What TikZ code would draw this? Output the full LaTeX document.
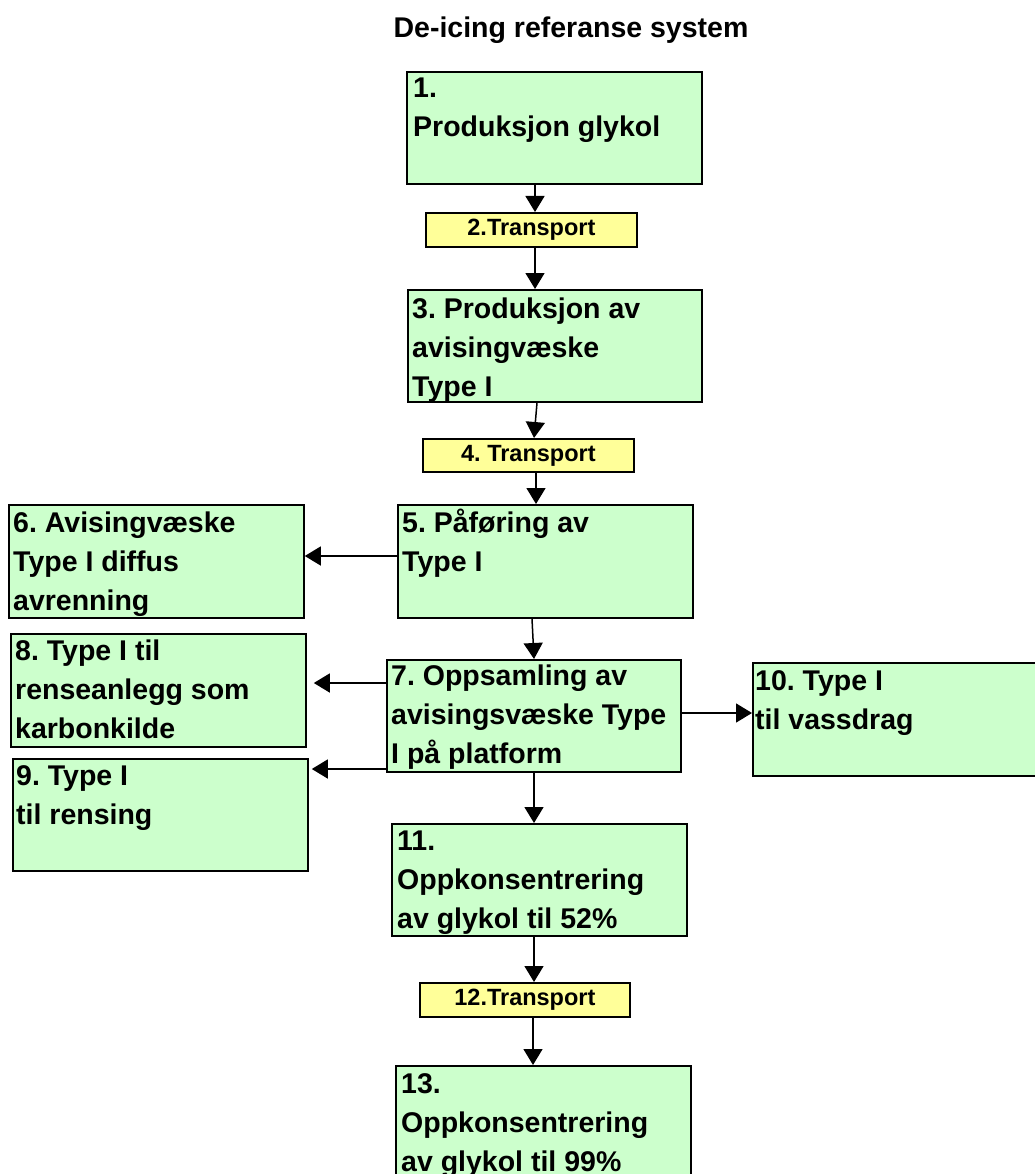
\documentclass[tikz,border=0pt]{standalone}
\usepackage{fontspec}
\setmainfont{Liberation Sans}
\usetikzlibrary{arrows.meta}
\definecolor{boxgreen}{HTML}{CCFFCC}
\definecolor{boxyellow}{HTML}{FFFF99}
\frenchspacing
\begin{document}
\begin{tikzpicture}[x=1pt,y=-1pt,
  gbox/.style={draw=black, fill=boxgreen, line width=1.8pt, inner sep=0pt, anchor=north west},
  ybox/.style={draw=black, fill=boxyellow, line width=1.8pt, inner sep=0pt, anchor=north west},
  txt/.style={anchor=base west, inner sep=0pt, font=\fontsize{28.5}{39}\selectfont\bfseries},
  ttxt/.style={font=\fontsize{23.5}{28}\selectfont\bfseries},
  arr/.style={line width=1.5pt, -{Triangle[length=16pt,width=19pt]}}]
\useasboundingbox (0,0) rectangle (1034,1174);

% title
\node[anchor=base, inner sep=0pt, font=\fontsize{28.5}{34}\selectfont\bfseries] (title) at (571,38) {De-icing referanse system};

% green process boxes
\node[gbox, minimum width=295pt, minimum height=112pt] (b1) at (406,71) {};
\node[gbox, minimum width=294pt, minimum height=112pt] (b3) at (407,289) {};
\node[gbox, minimum width=295pt, minimum height=113pt] (b5) at (397,504) {};
\node[gbox, minimum width=295pt, minimum height=113pt] (b6) at (8,504) {};
\node[gbox, minimum width=294pt, minimum height=112pt] (b7) at (386,659) {};
\node[gbox, minimum width=295pt, minimum height=113pt] (b8) at (10,633) {};
\node[gbox, minimum width=295pt, minimum height=112pt] (b9) at (12,758) {};
\node[gbox, minimum width=295pt, minimum height=113pt] (b10) at (752,662) {};
\node[gbox, minimum width=295pt, minimum height=112pt] (b11) at (391,823) {};
\node[gbox, minimum width=295pt, minimum height=113pt] (b13) at (395,1065) {};

% yellow transport boxes
\node[ybox, minimum width=211pt, minimum height=34pt] (b2) at (425,212) {};
\node[ybox, minimum width=211pt, minimum height=33pt] (b4) at (422,438) {};
\node[ybox, minimum width=210pt, minimum height=34pt] (b12) at (419,982) {};

% box texts
\node[txt] (t1) at (413,98) {\vtop{\hbox{1.}\hbox{Produksjon glykol}}};
\node[ttxt] (t2) at (b2.center) {2.Transport};
\node[txt] (t3) at (412,318) {\vtop{\hbox{3. Produksjon av}\hbox{avisingvæske}\hbox{Type I}}};
\node[ttxt] (t4) at (b4.center) {4. Transport};
\node[txt] (t5) at (402,532) {\vtop{\hbox{5. Påføring av}\hbox{Type I}}};
\node[txt] (t6) at (13,532) {\vtop{\hbox{6. Avisingvæske}\hbox{Type I diffus}\hbox{avrenning}}};
\node[txt] (t7) at (391,685) {\vtop{\hbox{7. Oppsamling av}\hbox{avisingsvæske Type}\hbox{I på platform}}};
\node[txt] (t8) at (15,660) {\vtop{\hbox{8. Type I til}\hbox{renseanlegg som}\hbox{karbonkilde}}};
\node[txt] (t9) at (16,785) {\vtop{\hbox{9. Type I}\hbox{til rensing}}};
\node[txt] (t10) at (755,690) {\vtop{\hbox{10. Type I}\hbox{til vassdrag}}};
\node[txt] (t11) at (397,850) {\vtop{\hbox{11.}\hbox{Oppkonsentrering}\hbox{av glykol til 52\%}}};
\node[ttxt] (t12) at (b12.center) {12.Transport};
\node[txt] (t13) at (401,1093) {\vtop{\hbox{13.}\hbox{Oppkonsentrering}\hbox{av glykol til 99\%}}};

% flow connectors
\draw[arr] (535,0 |- b1.south) -- (535,0 |- b2.north);
\draw[arr] (535,0 |- b2.south) -- (535,0 |- b3.north);
\draw[arr] (537,0 |- b3.south) -- (534,0 |- b4.north);
\draw[arr] (536,0 |- b4.south) -- (536,0 |- b5.north);
\draw[arr] (b5.west |- 0,556) -- (b6.east |- 0,556);
\draw[arr] (532,0 |- b5.south) -- (534,0 |- b7.north);
\draw[arr, shorten >=7pt] (b7.west |- 0,683) -- (b8.east |- 0,683);
\draw[arr, shorten >=3pt] (b7.west |- 0,769) -- (b9.east |- 0,769);
\draw[arr] (b7.east |- 0,713) -- (b10.west |- 0,713);
\draw[arr] (534,0 |- b7.south) -- (534,0 |- b11.north);
\draw[arr] (534,0 |- b11.south) -- (534,0 |- b12.north);
\draw[arr] (533,0 |- b12.south) -- (533,0 |- b13.north);
\end{tikzpicture}
\end{document}
